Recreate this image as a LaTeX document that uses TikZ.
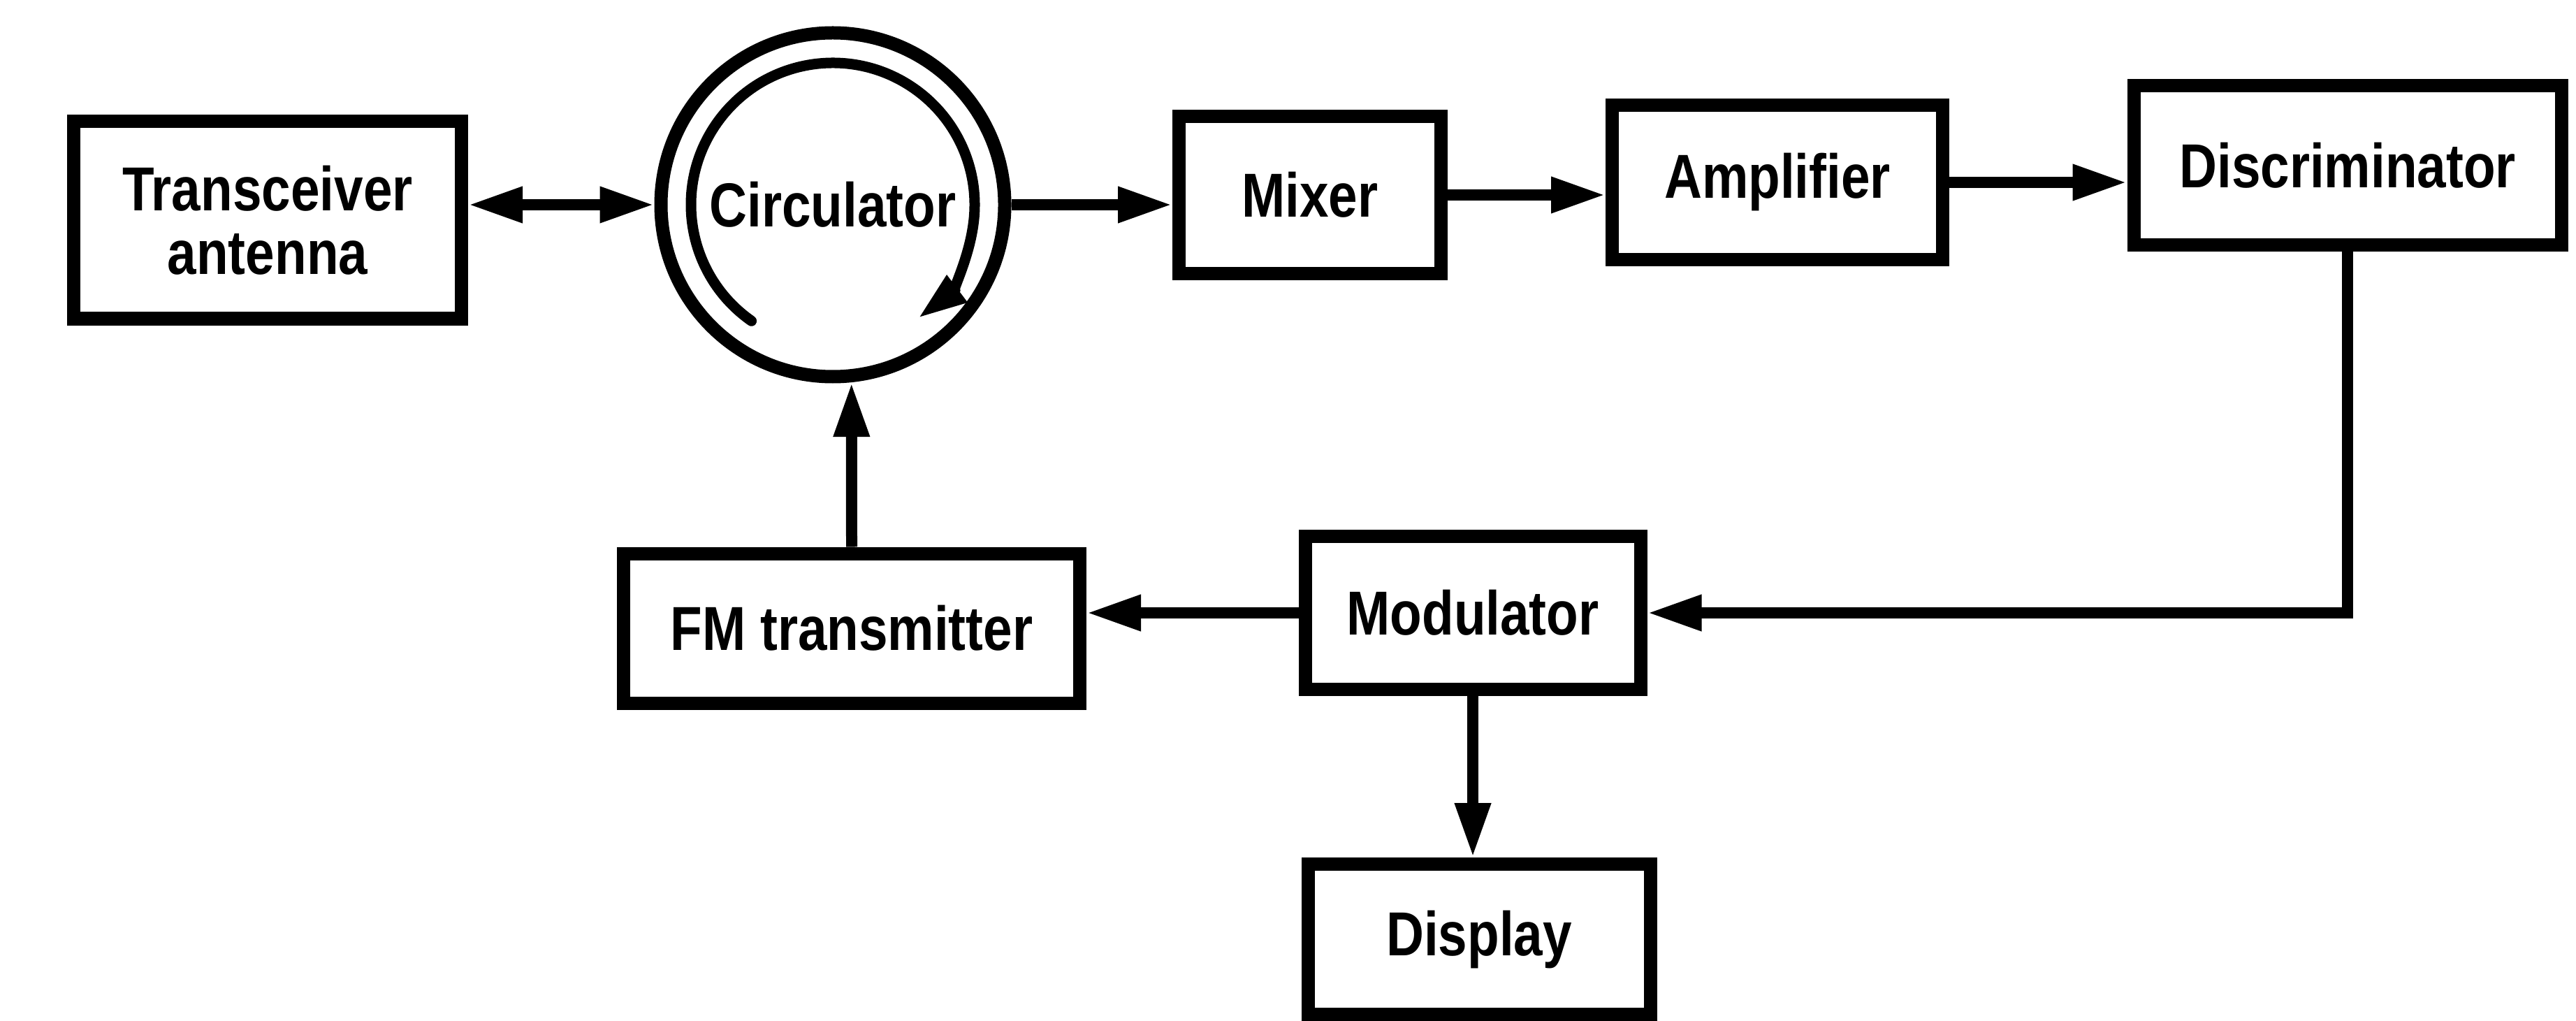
\documentclass[tikz,border=0pt]{standalone}
\usepackage{fontspec}
\newfontfamily\blockfont[FakeStretch=0.84]{Liberation Sans}
\usetikzlibrary{arrows.meta}

\begin{document}
\begin{tikzpicture}[
  >={Triangle[length=0.78cm,width=0.48cm]},
  label font/.style={font=\blockfont\bfseries\fontsize{25.3}{26}\selectfont},
  block/.style={draw, line width=0.19cm, inner sep=0pt, align=center, label font},
  conn/.style={line width=0.16cm}
]
  \useasboundingbox (0,0) rectangle (36.87,-14.61);

  % top row
  \node[block, minimum width=5.55cm, minimum height=2.82cm] (ant) at (3.83,-3.15) {Transceiver\\antenna};
  \node[circle, draw, line width=0.19cm, minimum size=4.92cm, inner sep=0pt, label font] (circ) at (11.92,-2.93) {Circulator};
  \draw[line width=0.15cm, line cap=round, -{Triangle[length=0.7cm,width=0.45cm]}]
    (circ.center) ++(235:2.03) arc[start angle=235, end angle=-53, radius=2.03];
  \node[block, minimum width=3.75cm, minimum height=2.25cm] (mix) at (18.75,-2.79) {Mixer};
  \node[block, minimum width=4.73cm, minimum height=2.21cm] (amp) at (25.44,-2.61) {Amplifier};
  \node[block, minimum width=6.12cm, minimum height=2.28cm] (disc) at (33.60,-2.37) {Discriminator};

  % bottom rows
  \node[block, minimum width=6.53cm, minimum height=2.14cm] (fm) at (12.19,-8.99) {FM transmitter};
  \node[block, minimum width=4.80cm, minimum height=2.19cm] (mod) at (21.08,-8.77) {Modulator};
  \node[block, minimum width=4.90cm, minimum height=2.15cm] (disp) at (21.17,-13.44) {Display};

  \draw[conn, <->] (circ.west -| ant.east) -- (circ.west);
  \draw[conn, ->] (circ.east) -- (circ.east -| mix.west);
  \draw[conn, ->] (mix.east) -- (mix.east -| amp.west);
  \draw[conn, ->] (amp.east) -- (amp.east -| disc.west);
  \draw[conn, ->] (disc.south) |- (mod.east);
  \draw[conn, ->] (mod.west) -- (mod.west -| fm.east);
  \draw[conn, ->] (mod.south) -- (mod.south |- disp.north);
  \draw[conn, ->] (fm.north) -- (circ.-84);
\end{tikzpicture}
\end{document}
